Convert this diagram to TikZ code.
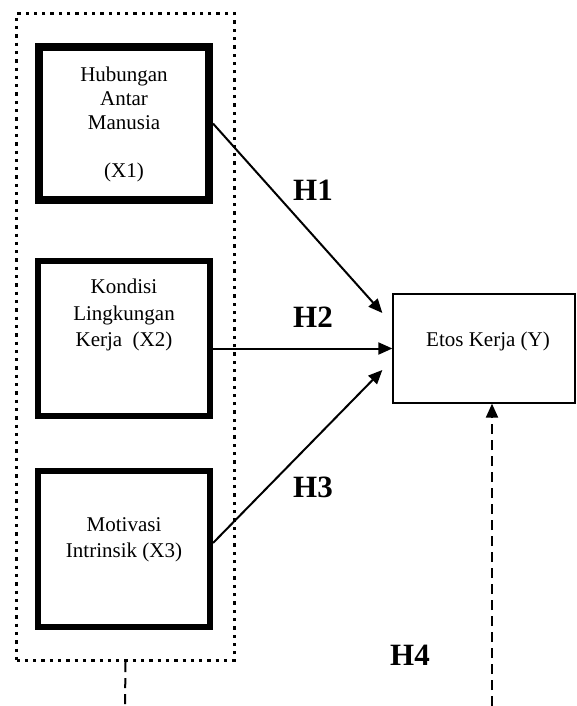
\documentclass[tikz,border=0pt]{standalone}
\usepackage{fontspec}
\setmainfont{Liberation Serif}
\usetikzlibrary{arrows.meta,calc}
\begin{document}
\begin{tikzpicture}[x=1pt,y=-1pt,
  varbox/.style={draw, line width=6pt, minimum width=172pt, minimum height=155pt, inner sep=0pt},
  boxtext/.style={align=center, font=\fontsize{21}{26.5}\selectfont, inner sep=0pt},
  hlabel/.style={font=\fontsize{31}{36}\selectfont\bfseries, inner sep=0pt},
  grpbox/.style={draw, line width=3.3pt, dash pattern=on 3.3pt off 5pt, minimum width=218pt, minimum height=647pt, inner sep=0pt},
  ybox/.style={draw, line width=1.3pt, minimum width=182pt, minimum height=109pt, inner sep=0pt},
  arr/.style={line width=2pt, -{Triangle[length=14pt,width=12pt]}},
  dasharr/.style={arr, dash pattern=on 10pt off 6pt},
  dashln/.style={line width=2pt, dash pattern=on 10pt off 6pt}
]
\useasboundingbox (0,0) rectangle (576,706);

% group box
\node[grpbox] (grp) at (125.5,337) {};

% variable boxes
\node[varbox, line width=8pt, minimum width=170pt, minimum height=153pt] (x1) at (124,123.5) {};
\node[varbox] (x2) at (124,338.5) {};
\node[varbox, minimum height=156pt] (x3) at (124,549) {};

\node[boxtext, font=\fontsize{21}{24}\selectfont] (t1) at (124,124.5) {Hubungan\\Antar\\Manusia\\[24pt](X1)};
\node[boxtext] (t2) at (124,315) {Kondisi\\Lingkungan\\Kerja~~(X2)};
\node[boxtext] (t3) at (124,540) {Motivasi\\Intrinsik (X3)};

% dependent box
\node[ybox] (y) at (484,348.5) {};
\node[boxtext] (ty) at (488,341) {Etos Kerja (Y)};

% arrows
\draw[arr] (x1.east) -- ($(y.west)+(-10,-35.5)$);
\draw[arr] (x2.east |- y.west) -- (y.west);
\draw[arr] ($(x3.east)+(0,-6)$) -- ($(y.west)+(-10,21.5)$);

\coordinate (h4bot) at (492,706);
\draw[dasharr] (h4bot) -- (h4bot |- y.south);
\coordinate (grpbot) at (125,706);
\draw[dashln] (grp.south) -- (grpbot);

% labels
\node[hlabel] (h1) at (313,190) {H1};
\node[hlabel] (h2) at (313,317) {H2};
\node[hlabel] (h3) at (313,487) {H3};
\node[hlabel] (h4) at (410,655) {H4};
\end{tikzpicture}
\end{document}
